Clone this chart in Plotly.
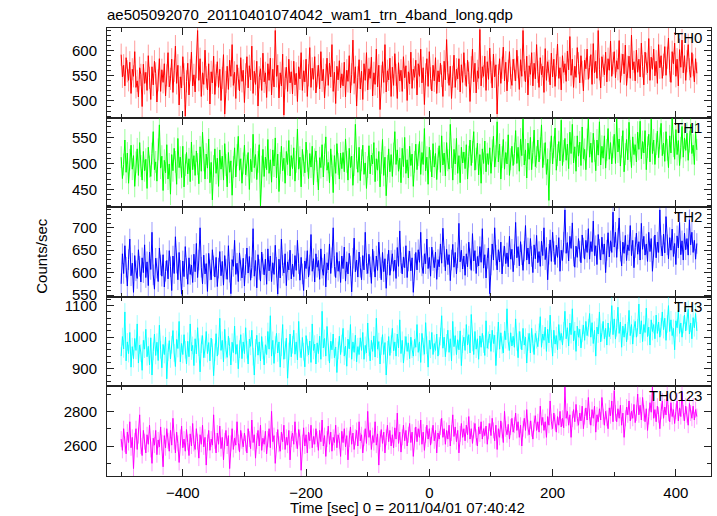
import plotly.graph_objects as go
from plotly.subplots import make_subplots

# time bins (sec): start and bin width
t_start = -500
t_step = 2

th0 = [592, 548, 571, 530, 586, 559, 541, 577, 515, 563, 549, 598, 527, 540, 508, 566, 552, 489, 573, 535,
       557, 521, 590, 546, 503, 568, 532, 579, 555, 498, 541, 584, 519, 562, 537, 574, 510, 551, 596, 528,
       544, 583, 517, 560, 609, 535, 571, 492, 548, 526, 588, 553, 470, 539, 575, 512, 561, 597, 530, 552,
       518, 567, 640, 541, 584, 509, 556, 533, 601, 547, 522, 574, 494, 558, 536, 589, 513, 551, 578, 527,
       563, 501, 546, 592, 474, 538, 569, 523, 581, 549, 612, 531, 557, 505, 572, 544, 520, 586, 539, 561,
       497, 553, 588, 526, 570, 542, 609, 515, 559, 533, 579, 490, 547, 564, 521, 595, 538, 556, 507, 574,
       541, 585, 512, 563, 528, 640, 549, 571, 506, 556, 530, 593, 472, 545, 567, 519, 583, 536, 558, 514,
       579, 532, 555, 499, 568, 544, 596, 521, 560, 538, 583, 509, 551, 606, 527, 565, 543, 588, 516, 549,
       571, 524, 598, 540, 563, 506, 552, 585, 531, 575, 548, 612, 519, 557, 495, 569, 542, 580, 526, 554,
       530, 577, 508, 561, 539, 590, 516, 553, 621, 535, 568, 490, 547, 582, 524, 559, 503, 574, 541, 596,
       522, 564, 545, 587, 510, 556, 533, 603, 528, 571, 483, 549, 578, 537, 612, 518, 560, 542, 585, 509,
       567, 531, 594, 552, 505, 576, 540, 561, 519, 588, 546, 570, 501, 558, 534, 597, 525, 563, 547, 581,
       512, 574, 549, 603, 536, 566, 493, 553, 584, 529, 598, 545, 520, 571, 540, 586, 515, 560, 538, 575,
       550, 509, 579, 542, 622, 557, 531, 569, 505, 548, 591, 527, 563, 544, 584, 518, 572, 537, 596, 553,
       529, 581, 556, 499, 567, 603, 538, 575, 516, 560, 545, 642, 530, 568, 549, 589, 521, 578, 543, 605,
       557, 526, 593, 548, 572, 474, 551, 584, 535, 566, 607, 540, 577, 520, 560, 598, 546, 531, 583, 562,
       540, 601, 567, 523, 582, 549, 640, 561, 538, 589, 512, 570, 553, 596, 530, 575, 544, 612, 558, 527,
       586, 552, 569, 517, 604, 541, 578, 560, 532, 595, 548, 583, 529, 571, 613, 545, 566, 522, 590, 557,
       574, 539, 599, 562, 628, 551, 583, 527, 569, 547, 606, 575, 536, 590, 558, 520, 581, 564, 603, 543,
       567, 592, 533, 614, 556, 579, 545, 640, 563, 526, 588, 570, 552, 597, 538, 584, 561, 619, 549, 575,
       598, 546, 580, 563, 620, 537, 572, 593, 554, 611, 531, 568, 589, 545, 631, 562, 578, 540, 601, 557,
       583, 548, 615, 569, 532, 597, 574, 556, 624, 541, 587, 563, 603, 550, 579, 535, 612, 566, 590, 545,
       572, 608, 551, 586, 625, 560, 537, 598, 574, 615, 549, 583, 530, 602, 567, 621, 556, 590, 541, 579,
       612, 563, 547, 596, 571, 538, 584, 555]

th1 = [512, 471, 498, 545, 483, 520, 462, 507, 535, 489, 515, 456, 502, 528, 477, 540, 495, 468, 523, 486,
       508, 452, 531, 494, 475, 519, 561, 488, 503, 466, 527, 574, 491, 514, 448, 506, 482, 536, 470, 499,
       441, 517, 486, 529, 503, 460, 548, 492, 512, 473, 533, 455, 497, 521, 480, 509, 465, 541, 488, 515,
       477, 524, 499, 461, 532, 485, 560, 506, 470, 518, 491, 547, 463, 502, 430, 495, 528, 481, 510, 456,
       526, 489, 514, 468, 538, 497, 455, 521, 483, 505, 439, 493, 530, 474, 516, 552, 487, 509, 462, 500,
       535, 478, 496, 521, 450, 508, 484, 556, 492, 517, 469, 503, 536, 418, 494, 527, 475, 512, 488, 546,
       481, 507, 464, 526, 495, 549, 472, 518, 446, 501, 533, 486, 510, 462, 523, 498, 544, 476, 515, 490,
       530, 466, 503, 566, 489, 512, 455, 527, 496, 482, 541, 505, 471, 519, 493, 533, 459, 508, 524, 485,
       449, 511, 492, 536, 474, 517, 551, 487, 502, 463, 528, 496, 444, 515, 481, 538, 499, 470, 520, 490,
       521, 484, 547, 503, 468, 529, 492, 514, 458, 497, 575, 510, 483, 531, 467, 506, 535, 479, 501, 452,
       493, 534, 480, 516, 499, 540, 465, 509, 487, 523, 455, 501, 546, 477, 512, 438, 495, 528, 484, 517,
       475, 519, 561, 498, 526, 485, 510, 463, 529, 494, 550, 481, 507, 472, 533, 496, 518, 456, 503, 537,
       488, 516, 542, 479, 521, 498, 567, 486, 512, 460, 531, 505, 474, 538, 493, 519, 469, 509, 534, 483,
       553, 497, 520, 476, 540, 506, 489, 575, 512, 468, 527, 499, 548, 481, 515, 463, 531, 501, 522, 490,
       536, 470, 513, 545, 496, 522, 561, 487, 509, 539, 478, 517, 462, 528, 500, 543, 484, 519, 498, 530,
       481, 525, 552, 493, 514, 580, 503, 537, 470, 512, 546, 489, 521, 499, 555, 477, 508, 533, 496, 519,
       563, 500, 531, 485, 547, 515, 585, 497, 526, 472, 539, 508, 550, 488, 521, 564, 494, 512, 545, 503,
       529, 574, 492, 518, 540, 479, 508, 429, 521, 553, 499, 531, 568, 487, 516, 542, 505, 583, 496, 524,
       548, 506, 537, 490, 560, 519, 575, 501, 532, 485, 553, 514, 541, 496, 570, 509, 527, 488, 546, 585,
       512, 539, 502, 558, 524, 486, 545, 516, 580, 497, 533, 510, 553, 491, 526, 567, 508, 540, 499, 531,
       556, 500, 585, 522, 547, 495, 532, 563, 484, 518, 546, 507, 579, 524, 492, 551, 517, 536, 503, 560,
       527, 581, 509, 542, 520, 563, 488, 531, 556, 503, 585, 519, 545, 498, 537, 562, 511, 548, 577, 515,
       539, 504, 561, 526, 492, 553, 520, 586, 533, 508, 565, 517, 544, 496, 530, 571, 512, 549, 525, 558,
       506, 542, 575, 519, 535, 498, 561, 526]

th2 = [575, 642, 598, 660, 612, 570, 629, 675, 593, 621, 556, 638, 604, 587, 651, 614, 579, 633, 600, 662,
       589, 624, 571, 646, 607, 690, 595, 563, 632, 610, 580, 655, 617, 592, 640, 568, 603, 627, 586, 649,
       613, 560, 637, 598, 680, 621, 584, 645, 605, 552, 626, 591, 658, 609, 574, 633, 596, 617, 578, 641,
       602, 665, 589, 628, 700, 612, 575, 639, 597, 620, 558, 643, 606, 584, 651, 615, 590, 634, 569, 610,
       647, 593, 625, 572, 638, 608, 585, 660, 601, 553, 629, 614, 672, 596, 621, 580, 644, 605, 588, 632,
       570, 618, 655, 599, 636, 583, 611, 698, 592, 627, 566, 640, 607, 581, 646, 619, 595, 630, 574, 653,
       604, 637, 580, 622, 596, 661, 612, 552, 630, 588, 675, 616, 599, 642, 571, 624, 606, 650, 586, 619,
       591, 638, 605, 672, 620, 583, 634, 597, 560, 626, 609, 649, 590, 617, 685, 603, 631, 579, 642, 612,
       627, 585, 653, 610, 594, 641, 568, 622, 606, 664, 598, 633, 700, 614, 589, 645, 603, 625, 578, 637,
       609, 657, 581, 624, 597, 643, 615, 557, 632, 677, 602, 628, 590, 646, 612, 584, 638, 606, 690, 620,
       598, 641, 613, 576, 652, 625, 590, 637, 605, 668, 611, 584, 645, 602, 631, 565, 618, 650, 594, 627,
       642, 603, 628, 587, 656, 614, 693, 622, 597, 635, 611, 660, 589, 626, 648, 604, 633, 556, 619, 645,
       606, 651, 623, 690, 615, 598, 642, 620, 675, 609, 634, 592, 657, 627, 611, 646, 585, 629, 613, 664,
       621, 699, 636, 604, 652, 618, 640, 582, 628, 663, 612, 645, 597, 633, 710, 624, 650, 608, 637, 594,
       642, 613, 668, 631, 605, 687, 626, 649, 598, 636, 615, 658, 623, 698, 610, 640, 588, 632, 655, 553,
       617, 664, 628, 700, 639, 606, 651, 624, 668, 597, 637, 659, 620, 644, 613, 681, 630, 652, 602, 640,
       712, 633, 658, 615, 669, 640, 605, 648, 705, 628, 655, 619, 676, 636, 600, 662, 631, 683, 622, 647,
       614, 670, 638, 700, 629, 656, 584, 641, 673, 625, 690, 647, 618, 661, 634, 678, 603, 650, 627, 668,
       740, 643, 667, 626, 681, 654, 711, 637, 612, 659, 634, 676, 648, 622, 684, 655, 630, 672, 645, 698,
       630, 669, 647, 715, 638, 660, 618, 685, 652, 628, 679, 641, 664, 600, 650, 689, 635, 671, 645, 735,
       657, 690, 634, 676, 722, 648, 615, 668, 643, 683, 627, 662, 649, 705, 638, 672, 611, 656, 688, 641,
       669, 628, 710, 652, 681, 639, 664, 625, 690, 647, 676, 603, 658, 684, 633, 668, 645, 740, 660, 637,
       686, 644, 725, 662, 631, 678, 650, 697, 636, 665, 618, 682, 655, 712, 640, 671, 628, 688, 651, 676,
       639, 718, 662, 690, 645, 672, 630, 665]

th3 = [940, 1002, 963, 1080, 925, 985, 948, 1015, 905, 970, 932, 996, 958, 1042, 918, 975, 950, 895, 990, 962,
       1025, 938, 971, 912, 998, 880, 955, 1010, 942, 984, 926, 1038, 960, 903, 977, 945, 1000, 868, 952, 989,
       931, 976, 1021, 950, 907, 993, 964, 1050, 922, 980, 945, 1008, 960, 915, 987, 938, 1042, 956, 974, 910,
       995, 947, 1030, 968, 890, 978, 1005, 935, 962, 1018, 948, 983, 925, 997, 966, 878, 952, 1011, 940, 972,
       1060, 958, 990, 922, 1025, 960, 936, 1003, 970, 912, 984, 951, 1035, 946, 977, 900, 962, 1008, 932, 985,
       948, 1030, 960, 915, 994, 971, 1022, 938, 880, 966, 1006, 943, 985, 925, 1002, 958, 912, 976, 945, 1018,
       962, 1068, 940, 990, 917, 975, 1012, 950, 985, 905, 968, 1040, 930, 959, 997, 870, 955, 1010, 938, 976,
       1022, 946, 985, 928, 1050, 963, 935, 999, 954, 906, 1005, 967, 944, 988, 920, 1042, 958, 978, 915, 982,
       948, 1003, 930, 1082, 966, 996, 940, 1034, 952, 918, 987, 960, 1010, 935, 969, 888, 958, 1003, 945, 980,
       1028, 940, 972, 908, 994, 963, 1040, 930, 985, 952, 1006, 922, 970, 945, 998, 958, 1015, 930, 974, 950,
       1045, 968, 925, 990, 955, 1004, 937, 1060, 962, 986, 915, 972, 1008, 945, 983, 880, 960, 1002, 942, 978,
       1028, 957, 985, 940, 1010, 966, 1055, 948, 990, 918, 975, 1002, 955, 982, 932, 1000, 962, 940, 993, 968,
       1040, 952, 985, 920, 1012, 970, 946, 1046, 975, 905, 990, 962, 1015, 945, 980, 958, 1010, 940, 972, 1002,
       1068, 965, 1000, 938, 982, 1022, 952, 995, 925, 1050, 970, 1005, 945, 992, 960, 1020, 910, 978, 1000, 958,
       1040, 975, 1008, 950, 1072, 983, 945, 1018, 962, 995, 930, 1004, 968, 1012, 978, 942, 1052, 965, 990, 1010,
       955, 1022, 980, 1006, 910, 988, 1048, 962, 1014, 975, 950, 1020, 992, 1090, 985, 958, 1014, 972, 1003, 968,
       1058, 985, 935, 1018, 990, 960, 1028, 975, 1000, 918, 985, 1012, 950, 1028, 980, 945, 1012, 992, 970, 1015,
       1065, 968, 1010, 990, 1032, 955, 1025, 982, 1070, 995, 940, 1022, 978, 1005, 960, 1040, 990, 1012, 975, 1020,
       1082, 995, 1030, 972, 1045, 1008, 1090, 988, 1020, 955, 1035, 1000, 1025, 966, 1012, 1038, 990, 1050, 1005, 1030,
       1075, 1000, 1046, 980, 1022, 940, 1032, 1010, 1080, 985, 1015, 1050, 995, 1028, 975, 1045, 1002, 1022, 1100, 1008,
       1058, 994, 1030, 1095, 1012, 1048, 968, 1035, 1000, 1042, 985, 1020, 1085, 1005, 1040, 978, 1028, 1050, 1000, 1030,
       1105, 1010, 1052, 986, 1040, 1015, 1092, 1002, 1032, 975, 1055, 1018, 1040, 995, 1070, 1012, 1048, 1000, 1033, 1080,
       1024, 1060, 990, 1042, 1100, 1018, 1055, 1005, 1028, 960, 1052, 1030, 1085, 1012, 1045, 1000, 1040, 1070, 1020, 1050,
       1088, 1010, 1045, 995, 1062, 1030, 1075, 1020]

th0123 = [2640, 2575, 2700, 2610, 2555, 2680, 2620, 2740, 2590, 2650, 2470, 2630, 2700, 2580, 2660, 2780, 2600, 2545, 2690, 2625,
          2560, 2665, 2610, 2720, 2580, 2500, 2645, 2605, 2690, 2550, 2635, 2595, 2710, 2620, 2480, 2660, 2590, 2700, 2630, 2570,
          2690, 2605, 2760, 2625, 2560, 2680, 2615, 2505, 2650, 2715, 2590, 2640, 2570, 2695, 2620, 2545, 2670, 2600, 2730, 2615,
          2580, 2700, 2625, 2530, 2665, 2610, 2720, 2595, 2650, 2490, 2620, 2690, 2575, 2640, 2605, 2780, 2630, 2560, 2675, 2610,
          2715, 2585, 2650, 2520, 2630, 2690, 2600, 2660, 2470, 2615, 2700, 2580, 2645, 2605, 2740, 2620, 2565, 2690, 2630, 2595,
          2675, 2615, 2560, 2700, 2640, 2585, 2750, 2620, 2665, 2530, 2630, 2690, 2600, 2720, 2575, 2645, 2610, 2685, 2555, 2640,
          2700, 2590, 2800, 2625, 2660, 2500, 2635, 2695, 2610, 2570, 2680, 2625, 2720, 2580, 2650, 2605, 2690, 2520, 2640, 2675,
          2610, 2740, 2630, 2585, 2695, 2650, 2460, 2620, 2705, 2600, 2665, 2560, 2680, 2630, 2720, 2590, 2655, 2610, 2700, 2640,
          2575, 2690, 2625, 2750, 2600, 2660, 2540, 2640, 2715, 2610, 2680, 2570, 2650, 2620, 2720, 2590, 2665, 2630, 2540, 2685,
          2620, 2700, 2595, 2660, 2520, 2640, 2710, 2610, 2675, 2580, 2650, 2690, 2600, 2740, 2630, 2665, 2560, 2645, 2700, 2615,
          2800, 2650, 2690, 2580, 2660, 2620, 2740, 2605, 2670, 2490, 2640, 2695, 2615, 2680, 2560, 2650, 2720, 2625, 2690, 2600,
          2665, 2590, 2705, 2640, 2790, 2615, 2680, 2565, 2650, 2720, 2630, 2690, 2600, 2665, 2730, 2620, 2680, 2540, 2660, 2710,
          2625, 2700, 2650, 2750, 2610, 2680, 2575, 2665, 2720, 2640, 2700, 2605, 2660, 2720, 2630, 2690, 2560, 2675, 2640, 2710,
          2760, 2650, 2700, 2610, 2690, 2640, 2720, 2600, 2675, 2780, 2655, 2710, 2625, 2690, 2560, 2670, 2730, 2650, 2700, 2630,
          2720, 2665, 2770, 2640, 2700, 2615, 2690, 2730, 2650, 2600, 2710, 2670, 2740, 2640, 2700, 2660, 2715, 2610, 2685, 2730,
          2660, 2760, 2690, 2630, 2720, 2580, 2700, 2650, 2745, 2690, 2620, 2800, 2700, 2665, 2725, 2640, 2710, 2760, 2680, 2720,
          2790, 2690, 2740, 2650, 2720, 2600, 2700, 2760, 2690, 2810, 2705, 2665, 2745, 2700, 2640, 2730, 2775, 2690, 2740, 2680,
          2830, 2720, 2765, 2690, 2740, 2650, 2770, 2720, 2860, 2740, 2700, 2790, 2735, 2680, 2770, 2720, 2800, 2710, 2760, 2705,
          2940, 2760, 2800, 2720, 2780, 2650, 2755, 2810, 2740, 2840, 2760, 2720, 2790, 2745, 2830, 2700, 2770, 2820, 2750, 2880,
          2770, 2720, 2810, 2760, 2830, 2680, 2780, 2740, 2815, 2750, 2880, 2770, 2720, 2800, 2760, 2700, 2820, 2775, 2860, 2740,
          2920, 2790, 2740, 2815, 2760, 2835, 2720, 2790, 2650, 2760, 2825, 2780, 2860, 2745, 2800, 2760, 2840, 2735, 2790, 2900,
          2780, 2835, 2750, 2880, 2790, 2740, 2815, 2690, 2770, 2850, 2795, 2940, 2760, 2810, 2740, 2830, 2780, 2700, 2800, 2860,
          2760, 2825, 2780, 2900, 2790, 2740, 2850, 2770, 2810, 2730, 2800, 2860, 2745, 2820, 2770, 2910, 2790, 2745, 2830, 2780,
          2720, 2845, 2790, 2760, 2830, 2750, 2810, 2770]

# approximate 1-sigma errors per band (counts/sec)
errors = [22, 21, 23, 28, 46]

series = [("TH0", th0, "255,0,0"), ("TH1", th1, "0,255,0"), ("TH2", th2, "0,0,255"),
          ("TH3", th3, "0,255,255"), ("TH0123", th0123, "255,0,255")]
y_ranges = [[467, 645], [416, 588], [546, 746], [844, 1128], [2427, 2944]]
y_dticks = [50, 50, 50, 100, 200]
y_minor = [10, 10, 10, 20, 100]

title_text = "ae505092070_20110401074042_wam1_trn_4band_long.qdp"
x_label = "Time [sec] 0 = 2011/04/01 07:40:42"
y_label = "Counts/sec"

FONT = "Liberation Sans, Arial, Helvetica, sans-serif"
AX = "#222"
FS = 15

fig = make_subplots(rows=5, cols=1, shared_xaxes=False, vertical_spacing=0)

for i, (name, vals, rgb) in enumerate(series):
    t = [t_start + t_step * k for k in range(len(vals))]
    fig.add_trace(go.Scatter(x=t, y=vals, mode="lines", line=dict(color=f"rgb({rgb})", width=1),
                             error_y=dict(type="constant", value=errors[i], color=f"rgba({rgb},0.4)",
                                          thickness=1, width=0),
                             showlegend=False, hoverinfo="skip"), row=i + 1, col=1)
    fig.update_yaxes(range=y_ranges[i], dtick=y_dticks[i], row=i + 1, col=1,
                     minor=dict(dtick=y_minor[i], ticks="inside", ticklen=4, tickcolor=AX, showgrid=False))
    fig.update_xaxes(showticklabels=(i == 4), row=i + 1, col=1)
    suffix = "" if i == 0 else str(i + 1)
    fig.add_annotation(text=name, xref=f"x{suffix} domain", yref=f"y{suffix} domain",
                       x=1, y=1, xanchor="right", yanchor="top", xshift=-7, yshift=1,
                       showarrow=False, font=dict(size=FS, color="black", family=FONT))

fig.update_yaxes(showline=True, linecolor=AX, linewidth=1, mirror="ticks",
                 ticks="inside", ticklen=7, tickcolor=AX, showgrid=False, zeroline=False,
                 automargin=False,
                 tickfont=dict(size=FS, color="black", family=FONT), ticklabelstandoff=6)
fig.update_xaxes(range=[-523, 457], dtick=200, showline=True, linecolor=AX, linewidth=1,
                 mirror="ticks", ticks="inside", ticklen=7, tickcolor=AX,
                 showgrid=False, zeroline=False, automargin=False,
                 minor=dict(dtick=100, ticks="inside", ticklen=4, tickcolor=AX, showgrid=False),
                 tickfont=dict(size=FS, color="black", family=FONT), ticklabelstandoff=3)

fig.add_annotation(text=y_label, xref="paper", yref="paper", x=-0.109, y=0.492,
                   xanchor="center", yanchor="middle", textangle=-90, showarrow=False,
                   font=dict(size=FS, color="black", family=FONT))
fig.add_annotation(text=x_label, xref="paper", yref="paper", x=0.498, y=-0.07,
                   xanchor="center", yanchor="middle", showarrow=False,
                   font=dict(size=FS, color="black", family=FONT))

fig.update_layout(
    width=717, height=516,
    margin=dict(l=107, r=6, t=28, b=40, autoexpand=False),
    paper_bgcolor="white", plot_bgcolor="white",
    title=dict(text=title_text, x=107 / 717, xanchor="left", y=1 - 15 / 516, yanchor="middle",
               font=dict(size=FS, color="black", family=FONT)),
)

fig.write_html("out.html", config={"displayModeBar": False},
               post_script="document.body.style.margin='0';")
